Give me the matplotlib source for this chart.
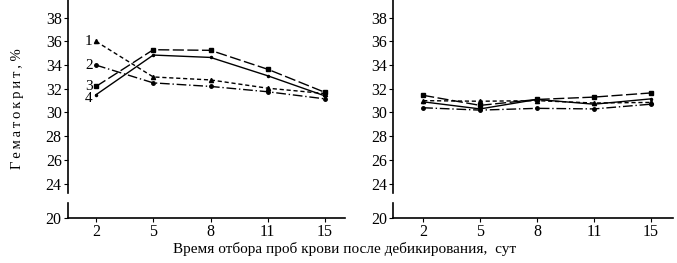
import matplotlib
matplotlib.use('Agg')
import matplotlib.pyplot as plt

plt.rcParams['font.family'] = ['Liberation Serif', 'DejaVu Serif']

days = ['2', '5', '8', '11', '15']

# left panel
left_1 = [36.0, 33.0, 32.75, 32.05, 31.6]
left_2 = [34.0, 32.5, 32.2, 31.75, 31.15]
left_3 = [32.2, 35.3, 35.25, 33.65, 31.7]
left_4 = [31.5, 34.85, 34.65, 33.1, 31.4]

# right panel
right_1 = [31.0, 30.95, 31.0, 30.8, 30.85]
right_2 = [30.4, 30.2, 30.35, 30.3, 30.7]
right_3 = [31.45, 30.6, 31.1, 31.3, 31.65]
right_4 = [30.9, 30.3, 31.1, 30.7, 31.15]

curve_labels = ['1', '2', '3', '4']
yticks = [24, 26, 28, 30, 32, 34, 36, 38]

styles = [
    dict(ls=(0, (3, 2)), marker='^', ms=3),
    dict(ls=(0, (7, 2, 1, 2)), marker='o', ms=2.5),
    dict(ls=(0, (8, 2.5)), marker='s', ms=3),
    dict(ls='-', marker='o', ms=1.5),
]

fig = plt.figure(figsize=(6.77, 2.63), dpi=100)
W, H = 677.0, 263.0


def make_panel(x0, x1, xlim, series, labels=False):
    top = fig.add_axes([x0 / W, 1 - 193 / H, (x1 - x0) / W, 193 / H])
    bot = fig.add_axes([x0 / W, 1 - 218 / H, (x1 - x0) / W, 15 / H])
    xs = list(range(len(days)))
    for ys, st in zip(series, styles):
        top.plot(xs, ys, color='black', lw=1.0, mfc='black', mec='black', **st)
    top.set_ylim(23.2, 39.5)
    top.set_xlim(*xlim)
    bot.set_ylim(20, 21.27)
    bot.set_xlim(*xlim)
    for ax in (top, bot):
        for s in ('top', 'right'):
            ax.spines[s].set_visible(False)
        ax.spines['left'].set_linewidth(1.2)
        ax.tick_params(axis='both', labelsize=11.5, length=3, width=0.8,
                       direction='out', pad=1.5)
    top.spines['bottom'].set_visible(False)
    top.set_xticks([])
    top.set_yticks(yticks)
    bot.set_yticks([20])
    bot.set_xticks(xs)
    bot.set_xticklabels(days)
    bot.spines['bottom'].set_linewidth(1.2)
    bot.tick_params(axis='x', pad=1.5)
    if labels:
        for lab, ys in zip(curve_labels, series):
            off = 0.3 if lab == '4' else 0.0
            top.text(-0.06, ys[0] - off, lab, ha='right', va='center', fontsize=11)
    return top, bot


make_panel(68, 345, (-0.49, 4.35), [left_1, left_2, left_3, left_4], labels=True)
make_panel(393, 673, (-0.53, 4.39), [right_1, right_2, right_3, right_4])

ylab = '\u2009'.join('Гематокрит,') + ' %'
fig.text(18 / W, 1 - 109 / H, ylab, rotation=90,
         ha='center', va='center', fontsize=10.5)
fig.text(345 / W, 1 - 249 / H, 'Время отбора проб крови после дебикирования,  сут',
         ha='center', va='center', fontsize=11)

fig.savefig('out.png', dpi=100)
